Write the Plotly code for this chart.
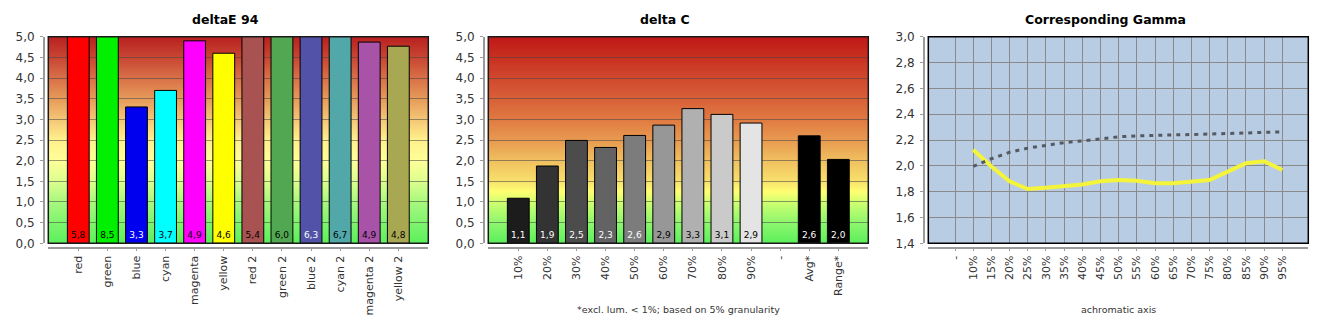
import plotly.graph_objects as go

# ---------------- data ----------------
de94_categories = ["red", "green", "blue", "cyan", "magenta", "yellow",
                   "red 2", "green 2", "blue 2", "cyan 2", "magenta 2", "yellow 2"]
de94_values = [5.8, 8.5, 3.3, 3.7, 4.9, 4.6, 5.4, 6.0, 6.3, 6.7, 4.87, 4.77]
de94_colors = ["#ff0000", "#00f000", "#0000ee", "#00ffff", "#ff00ff", "#ffff00",
               "#a85252", "#52a852", "#5252a8", "#52a8a8", "#a852a8", "#a8a852"]
de94_text_colors = ["#000000", "#000000", "#ffffff", "#000000", "#000000", "#000000",
                    "#000000", "#000000", "#ffffff", "#000000", "#000000", "#000000"]

dc_categories = ["10%", "20%", "30%", "40%", "50%", "60%", "70%", "80%", "90%",
                 "-", "Avg*", "Range*"]
dc_values = [1.09, 1.87, 2.49, 2.32, 2.61, 2.86, 3.26, 3.12, 2.91, None, 2.60, 2.03]
dc_colors = ["#1c1c1c", "#333333", "#4c4c4c", "#636363", "#7c7c7c", "#979797",
             "#b0b0b0", "#cacaca", "#e4e4e4", "#000000", "#000000", "#000000"]
dc_text_colors = ["#ffffff", "#ffffff", "#ffffff", "#ffffff", "#ffffff", "#000000",
                  "#000000", "#000000", "#000000", "#ffffff", "#ffffff", "#ffffff"]

gamma_categories = ["-", "10%", "15%", "20%", "25%", "30%", "35%", "40%", "45%", "50%",
                    "55%", "60%", "65%", "70%", "75%", "80%", "85%", "90%", "95%"]
gamma_measured = [None, 2.125, 1.995, 1.88, 1.82, 1.83, 1.845, 1.855, 1.88, 1.89,
                  1.885, 1.866, 1.866, 1.88, 1.89, 1.955, 2.02, 2.036, 1.968]
gamma_target = [None, 1.995, 2.055, 2.105, 2.137, 2.158, 2.18, 2.193, 2.207, 2.225,
                2.232, 2.238, 2.24, 2.242, 2.247, 2.252, 2.257, 2.262, 2.263]

titles = ["deltaE 94", "delta C", "Corresponding Gamma"]
footnote = "*excl. lum. < 1%; based on 5% granularity"
gamma_axis_title = "achromatic axis"

# ---------------- layout geometry / style ----------------
W, H = 1330, 330
TOP, BOT = 36.7, 243.3
XAX_Y = 247.5
panel_left = [48.3, 488.3, 928.3]
PW = 380.0
ydom = [1 - BOT / H, 1 - TOP / H]
xpos = 1 - XAX_Y / H

FONT = "DejaVu Sans"
XTICKFONT = dict(family=FONT, size=11, color="#333333")
YTICKFONT = dict(family=FONT, size=12, color="#333333")

grad1 = [(0.0, "#5cf05c"), (0.5, "#80f46e"), (1.0, "#a8f87e"), (1.5, "#dcff8e"),
         (2.0, "#ffff98"), (2.5, "#fff08c"), (3.0, "#f4c676"), (3.5, "#e69a5a"),
         (4.0, "#d87048"), (4.5, "#c84632"), (5.0, "#b82020")]
grad2 = [(0.0, "#5cf05c"), (0.5, "#8ef66e"), (1.0, "#d0ff70"), (1.25, "#ffff72"),
         (1.5, "#f8e06c"), (2.0, "#f0c060"), (2.5, "#e89a50"), (3.0, "#e07a42"),
         (3.5, "#d86038"), (4.0, "#d0482e"), (4.5, "#c83020"), (5.0, "#c01818")]


def hex2rgb(h):
    h = h.lstrip("#")
    return tuple(int(h[i:i + 2], 16) for i in (0, 2, 4))


def interp(stops, v):
    for (a, ca), (b, cb) in zip(stops[:-1], stops[1:]):
        if a <= v <= b:
            t = (v - a) / (b - a) if b > a else 0
            r1, g1, b1 = hex2rgb(ca)
            r2, g2, b2 = hex2rgb(cb)
            return "rgb(%d,%d,%d)" % (round(r1 + (r2 - r1) * t),
                                      round(g1 + (g2 - g1) * t),
                                      round(b1 + (b2 - b1) * t))
    return stops[-1][1]


def gradient_shapes(stops, xref, yref, n=125, top=5.0):
    shapes = []
    step = top / n
    for i in range(n):
        y0 = i * step
        y1 = min(top, y0 + step * 1.6)
        shapes.append(dict(type="rect", xref=xref, yref=yref, x0=0, x1=1,
                           y0=y0, y1=y1, fillcolor=interp(stops, y0 + step / 2),
                           line=dict(width=0), layer="below"))
    return shapes


fig = go.Figure()

fig.add_trace(go.Bar(
    x=de94_categories, y=de94_values, xaxis="x", yaxis="y", width=0.75,
    marker=dict(color=de94_colors, line=dict(color="#000000", width=1)),
    texttemplate="%{y:.1f}", textposition="inside", insidetextanchor="start",
    textangle=0, textfont=dict(family=FONT, size=9, color=de94_text_colors),
    showlegend=False, hoverinfo="x+y"))

fig.add_trace(go.Bar(
    x=dc_categories, y=dc_values, xaxis="x2", yaxis="y2", width=0.75,
    marker=dict(color=dc_colors, line=dict(color="#000000", width=1)),
    texttemplate="%{y:.1f}", textposition="inside", insidetextanchor="start",
    textangle=0, textfont=dict(family=FONT, size=9, color=dc_text_colors),
    showlegend=False, hoverinfo="x+y"))

fig.add_trace(go.Scatter(
    x=gamma_categories, y=gamma_measured, xaxis="x3", yaxis="y3", mode="lines",
    line=dict(color="#f4f43a", width=4), showlegend=False))

fig.add_trace(go.Scatter(
    x=gamma_categories, y=gamma_target, xaxis="x3", yaxis="y3", mode="lines",
    line=dict(color="#555a62", width=3, dash="4px,5px"), showlegend=False))


def xaxis_cfg(i, cats, rng, grid=False):
    return dict(domain=[panel_left[i] / W, (panel_left[i] + PW) / W],
                anchor="free", position=xpos, type="category", automargin=False,
                categoryarray=cats, range=rng, showline=True,
                linecolor="#9a9a9a", linewidth=1.5, ticks="outside", ticklen=3,
                tickcolor="#9a9a9a", tickangle=-90, tickfont=XTICKFONT,
                showgrid=grid, gridcolor="#8a8a8a", gridwidth=1, zeroline=False,
                fixedrange=True)


def yaxis_cfg(i, rng, dtick, gridcolor):
    return dict(domain=ydom, anchor="free", position=(panel_left[i] - 4.5) / W,
                automargin=False,
                range=rng, dtick=dtick, tick0=rng[0], tickformat=".1f",
                showline=True, linecolor="#9a9a9a", linewidth=1.5,
                ticks="outside", ticklen=3, tickcolor="#9a9a9a",
                tickfont=YTICKFONT, ticklabelstandoff=3,
                showgrid=True, gridcolor=gridcolor, gridwidth=1,
                zeroline=False, fixedrange=True)


shapes = []
shapes += gradient_shapes(grad1, "x domain", "y")
shapes += gradient_shapes(grad2, "x2 domain", "y2")
for xr, yr, col in [("x domain", "y domain", "#1a1a1a"),
                    ("x2 domain", "y2 domain", "#1a1a1a"),
                    ("x3 domain", "y3 domain", "#000000")]:
    shapes.append(dict(type="rect", xref=xr, yref=yr, x0=0, x1=1, y0=0, y1=1,
                       line=dict(color=col, width=1.5), layer="above"))

annotations = []
for i, t in enumerate(titles):
    annotations.append(dict(text="<b>%s</b>" % t, xref="paper", yref="paper",
                            x=(panel_left[i] - 48.3 + 225) / W, y=1 - 20 / H,
                            xanchor="center", yanchor="middle", showarrow=False,
                            font=dict(family=FONT, size=12.5, color="#000000")))
annotations.append(dict(text=footnote, xref="paper", yref="paper",
                        x=(panel_left[1] + PW / 2) / W, y=1 - 309 / H,
                        xanchor="center", yanchor="middle", showarrow=False,
                        font=dict(family=FONT, size=9.5, color="#333333")))
annotations.append(dict(text=gamma_axis_title, xref="paper", yref="paper",
                        x=(panel_left[2] + PW / 2) / W, y=1 - 309 / H,
                        xanchor="center", yanchor="middle", showarrow=False,
                        font=dict(family=FONT, size=9.5, color="#333333")))

grid_rgba = "rgba(70,70,70,0.55)"
fig.update_layout(
    width=W, height=H, autosize=False,
    margin=dict(l=0, r=0, t=0, b=0, pad=0, autoexpand=False),
    paper_bgcolor="#ffffff", plot_bgcolor="#b8cce4",
    separators=",.",
    bargap=0.25,
    xaxis=xaxis_cfg(0, de94_categories, [-1.03, 12.03]),
    yaxis=yaxis_cfg(0, [0, 5], 0.5, grid_rgba),
    xaxis2=xaxis_cfg(1, dc_categories, [-1.03, 12.03]),
    yaxis2=yaxis_cfg(1, [0, 5], 0.5, grid_rgba),
    xaxis3=xaxis_cfg(2, gamma_categories, [-1.47, 19.43], grid=True),
    yaxis3=yaxis_cfg(2, [1.4, 3.0], 0.2, "#8a8a8a"),
    shapes=shapes,
    annotations=annotations,
    showlegend=False,
)

fig.write_html("out.html", config={"displayModeBar": False})
